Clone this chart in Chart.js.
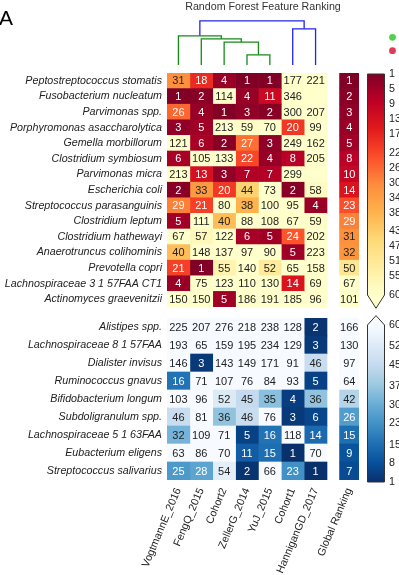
<!DOCTYPE html>
<html>
<head>
<meta charset="utf-8">
<title>Random Forest Feature Ranking</title>
<script src="https://cdn.jsdelivr.net/npm/chart.js@4.4.1/dist/chart.umd.min.js"></script>
<style>
  html, body { margin: 0; padding: 0; background: #fff; }
  #figure { position: relative; width: 399px; height: 575px; overflow: hidden; }
  #figure canvas { position: absolute; }
</style>
</head>
<body>
<div id="figure">
  <canvas id="dendro" width="399" height="70" style="left:0px;top:0px"></canvas>
  <canvas id="crcMap" width="399" height="234" style="left:0px;top:73px"></canvas>
  <canvas id="ctrlMap" width="399" height="257" style="left:0px;top:318px"></canvas>
  <canvas id="crcBar" width="40" height="260" style="left:359px;top:60px"></canvas>
  <canvas id="ctrlBar" width="40" height="200" style="left:359px;top:300px"></canvas>
</div>
<script>
const studies = ["VogtmannE_2016", "FengQ_2015", "Cohort2", "ZellerG_2014", "YuJ_2015", "Cohort1", "HanniganGD_2017"];
const rankingLabel = "Global Ranking";
const title = "Random Forest Feature Ranking";
const panelLetter = "A";

// species enriched in CRC (red block)
const crcSpecies = [
    "Peptostreptococcus stomatis", "Fusobacterium nucleatum", "Parvimonas spp.",
    "Porphyromonas asaccharolytica", "Gemella morbillorum", "Clostridium symbiosum",
    "Parvimonas micra", "Escherichia coli", "Streptococcus parasanguinis",
    "Clostridium leptum", "Clostridium hathewayi", "Anaerotruncus colihominis",
    "Prevotella copri", "Lachnospiraceae 3 1 57FAA CT1", "Actinomyces graevenitzii",
];
const crcRanks = [
    [31, 18, 4, 1, 1, 177, 221],
    [1, 2, 114, 4, 11, 346, null],
    [26, 4, 1, 3, 2, 300, 207],
    [3, 5, 213, 59, 70, 20, 99],
    [121, 6, 2, 27, 3, 249, 162],
    [6, 105, 133, 22, 4, 8, 205],
    [213, 13, 3, 7, 7, 299, null],
    [2, 33, 20, 44, 73, 2, 58],
    [29, 21, 80, 38, 100, 95, 4],
    [5, 111, 40, 88, 108, 67, 59],
    [67, 57, 122, 6, 5, 24, 202],
    [40, 148, 137, 97, 90, 5, 223],
    [21, 1, 55, 140, 52, 65, 158],
    [4, 75, 123, 110, 130, 14, 69],
    [150, 150, 5, 186, 191, 185, 96],
];
const crcGlobal = [1, 2, 3, 4, 5, 8, 10, 14, 23, 29, 31, 32, 50, 67, 101];

// species enriched in controls (blue block)
const ctrlSpecies = [
    "Alistipes spp.", "Lachnospiraceae 8 1 57FAA", "Dialister invisus",
    "Ruminococcus gnavus", "Bifidobacterium longum", "Subdoligranulum spp.",
    "Lachnospiraceae 5 1 63FAA", "Eubacterium eligens", "Streptococcus salivarius",
];
const ctrlRanks = [
    [225, 207, 276, 218, 238, 128, 2],
    [193, 65, 159, 195, 234, 129, 3],
    [146, 3, 143, 149, 171, 91, 46],
    [16, 71, 107, 76, 84, 93, 5],
    [103, 96, 52, 45, 35, 4, 36],
    [46, 81, 36, 46, 76, 3, 6],
    [32, 109, 71, 5, 16, 118, 14],
    [63, 86, 70, 11, 15, 1, 70],
    [25, 28, 54, 2, 66, 23, 1],
];
const ctrlGlobal = [166, 130, 97, 64, 42, 26, 15, 9, 7];

const crcTicks = [1, 5, 9, 13, 17, 22, 26, 30, 34, 38, 43, 47, 51, 55, 60];
const ctrlTicks = [1, 8, 15, 23, 30, 37, 45, 52, 60];
const rankMin = 1;
const rankMax = 60;

// hierarchical clustering of the studies: [childA, childB, height]
const dendroLinks = [[3, 4, 0.23], [2, 7, 0.52], [1, 8, 0.59], [0, 9, 0.66], [5, 6, 0.82], [10, 11, 1.0]];
const dendroGroups = ["a", "a", "a", "a", "b", "b"];

// ---- layout / style ----
const FONT = "'Liberation Sans', Arial, Helvetica, sans-serif";
const TEXT = "#222222";
const RANK_SPAN = [7.55, 8.4];
const X_MAX = 8.4;
const LABEL_W = 167;
const RIGHT_PAD = 40;

const redPalette = ["#800026", "#bd0026", "#e31a1c", "#fc4e2a", "#fd8d3c", "#feb24c", "#fed976", "#ffeda0", "#ffffcc"];
const bluePalette = ["#08306b", "#08519c", "#2171b5", "#4292c6", "#6baed6", "#9ecae1", "#c6dbef", "#deebf7", "#f7fbff"];
const linkColors = { a: "#178a17", b: "#2323f0" };

Chart.defaults.font.family = FONT;
Chart.defaults.color = TEXT;

function hexToRgb(hex) {
    const n = parseInt(hex.slice(1), 16);
    return [(n >> 16) & 255, (n >> 8) & 255, n & 255];
}

function rankColor(palette, v) {
    if (v == null) return palette[palette.length - 1];
    const t = Math.min(Math.max((v - rankMin) / (rankMax - rankMin), 0), 1);
    const pos = t * (palette.length - 1);
    const i = Math.min(Math.floor(pos), palette.length - 2);
    const f = pos - i;
    const a = hexToRgb(palette[i]);
    const b = hexToRgb(palette[i + 1]);
    const c = a.map((x, k) => Math.round(x + (b[k] - x) * f));
    return `rgb(${c[0]}, ${c[1]}, ${c[2]})`;
}

const cellLabels = {
    id: "cellLabels",
    afterDatasetsDraw(chart) {
        const ctx = chart.ctx;
        ctx.save();
        ctx.font = `11px ${FONT}`;
        ctx.textAlign = "center";
        ctx.textBaseline = "middle";
        chart.data.datasets.forEach((ds, i) => {
            chart.getDatasetMeta(i).data.forEach((bar, j) => {
                const v = ds.values[j];
                if (v == null) return;
                ctx.fillStyle = v < 30 ? "#ffffff" : TEXT;
                ctx.fillText(String(v), (bar.x + bar.base) / 2, bar.y + 0.5);
            });
        });
        ctx.restore();
    },
};

function makeHeatmap(canvasId, species, ranks, globals, palette, showColumns) {
    const columns = studies.map((name, c) => ({
        label: name,
        values: ranks.map((row) => row[c]),
        span: [c, c + 1],
    }));
    columns.push({ label: rankingLabel, values: globals, span: RANK_SPAN });
    const tickCenters = columns.map((col) => (col.span[0] + col.span[1]) / 2);

    new Chart(document.getElementById(canvasId), {
        type: "bar",
        data: {
            labels: species,
            datasets: columns.map((col) => ({
                label: col.label,
                data: col.values.map(() => col.span),
                values: col.values,
                backgroundColor: col.values.map((v) => rankColor(palette, v)),
                borderWidth: 0,
                barPercentage: 1,
                categoryPercentage: 1,
                grouped: false,
            })),
        },
        options: {
            indexAxis: "y",
            responsive: false,
            animation: false,
            layout: { padding: { left: 0, right: RIGHT_PAD, top: 0, bottom: 0 } },
            plugins: { legend: { display: false }, tooltip: { enabled: false } },
            scales: {
                x: {
                    type: "linear",
                    min: 0,
                    max: X_MAX,
                    display: showColumns,
                    grid: { display: false, drawTicks: false },
                    border: { display: false },
                    afterBuildTicks: (axis) => {
                        axis.ticks = tickCenters.map((v) => ({ value: v }));
                    },
                    afterFit: (axis) => {
                        if (showColumns) axis.height = 95;
                    },
                    ticks: {
                        autoSkip: false,
                        minRotation: 67,
                        maxRotation: 67,
                        padding: 6,
                        color: TEXT,
                        font: { size: 10.7 },
                        callback: (value, index) => columns[index].label,
                    },
                },
                y: {
                    type: "category",
                    grid: { display: false, drawTicks: false },
                    border: { display: false },
                    afterFit: (axis) => {
                        axis.width = LABEL_W;
                        axis.paddingTop = 0;
                        axis.paddingBottom = 0;
                    },
                    ticks: {
                        autoSkip: false,
                        padding: 5,
                        color: TEXT,
                        font: { size: 10.7, style: "italic" },
                    },
                },
            },
        },
        plugins: [cellLabels],
    });
}

const colorbarOutline = {
    id: "colorbarOutline",
    afterDatasetsDraw(chart, args, opts) {
        const ctx = chart.ctx;
        const area = chart.chartArea;
        const y = chart.scales.y;
        const yStart = y.getPixelForValue(rankMin);
        const yEnd = y.getPixelForValue(rankMax);
        const tip = yEnd + (yEnd - yStart) * 0.06;
        const mid = (area.left + area.right) / 2;
        ctx.save();
        ctx.beginPath();
        ctx.moveTo(area.left, yEnd);
        ctx.lineTo(mid, tip);
        ctx.lineTo(area.right, yEnd);
        ctx.closePath();
        ctx.fillStyle = opts.extendColor;
        ctx.fill();
        ctx.beginPath();
        ctx.moveTo(area.left + 0.5, yStart);
        ctx.lineTo(area.left + 0.5, yEnd);
        ctx.lineTo(mid, tip);
        ctx.lineTo(area.right - 0.5, yEnd);
        ctx.lineTo(area.right - 0.5, yStart);
        ctx.closePath();
        ctx.strokeStyle = "#333333";
        ctx.lineWidth = 1;
        ctx.stroke();
        ctx.restore();
    },
};

function makeColorbar(canvasId, palette, ticks, reverse, padding) {
    new Chart(document.getElementById(canvasId), {
        type: "bar",
        data: {
            labels: [""],
            datasets: [
                {
                    data: [[rankMin, rankMax]],
                    borderWidth: 0,
                    barPercentage: 1,
                    categoryPercentage: 1,
                    backgroundColor: (context) => {
                        const chart = context.chart;
                        const y = chart.scales.y;
                        if (!chart.chartArea || !y) return palette[0];
                        const g = chart.ctx.createLinearGradient(0, y.getPixelForValue(rankMin), 0, y.getPixelForValue(rankMax));
                        palette.forEach((col, i) => g.addColorStop(i / (palette.length - 1), col));
                        return g;
                    },
                },
            ],
        },
        options: {
            responsive: false,
            animation: false,
            layout: { padding },
            plugins: {
                legend: { display: false },
                tooltip: { enabled: false },
                colorbarOutline: { extendColor: palette[palette.length - 1] },
            },
            scales: {
                x: { display: false },
                y: {
                    type: "linear",
                    position: "right",
                    min: rankMin,
                    max: rankMax,
                    reverse,
                    grid: { display: false, drawTicks: false },
                    border: { display: false },
                    afterBuildTicks: (axis) => {
                        axis.ticks = ticks.map((v) => ({ value: v }));
                    },
                    afterFit: (axis) => {
                        axis.width = 14;
                        axis.paddingTop = 0;
                        axis.paddingBottom = 0;
                    },
                    ticks: {
                        autoSkip: false,
                        padding: 4,
                        color: TEXT,
                        font: { size: 10.7 },
                        callback: (v) => String(v),
                    },
                },
            },
        },
        plugins: [colorbarOutline],
    });
}

// dendrogram over the study columns
const nodes = studies.map((_, i) => ({ x: i + 0.5, h: 0 }));
const dendroSets = dendroLinks.map(([a, b, h], k) => {
    const A = nodes[a];
    const B = nodes[b];
    nodes.push({ x: (A.x + B.x) / 2, h });
    return {
        data: [{ x: A.x, y: A.h }, { x: A.x, y: h }, { x: B.x, y: h }, { x: B.x, y: B.h }],
        showLine: true,
        borderColor: linkColors[dendroGroups[k]],
        borderWidth: 1.3,
        pointRadius: 0,
        tension: 0,
        clip: false,
    };
});

const panelDecor = {
    id: "panelDecor",
    afterDraw(chart) {
        const ctx = chart.ctx;
        ctx.save();
        ctx.fillStyle = "#000000";
        ctx.font = `21px ${FONT}`;
        ctx.textBaseline = "alphabetic";
        ctx.fillText(panelLetter, -1, 25);
        [["#4fd24f", 37.3], ["#e23a5a", 50.7]].forEach(([color, cy]) => {
            ctx.beginPath();
            ctx.arc(392.5, cy, 3.4, 0, Math.PI * 2);
            ctx.fillStyle = color;
            ctx.fill();
        });
        ctx.restore();
    },
};

new Chart(document.getElementById("dendro"), {
    type: "scatter",
    data: { datasets: dendroSets },
    options: {
        responsive: false,
        animation: false,
        layout: { padding: { left: LABEL_W, right: RIGHT_PAD, top: 0, bottom: 5 } },
        plugins: {
            legend: { display: false },
            tooltip: { enabled: false },
            title: {
                display: true,
                text: title,
                color: "#333333",
                font: { size: 10.7, weight: "normal" },
                padding: { top: 1, bottom: 7 },
            },
        },
        scales: {
            x: { type: "linear", min: 0, max: X_MAX, display: false },
            y: { type: "linear", min: 0, max: 1, display: false },
        },
    },
    plugins: [panelDecor],
});

makeHeatmap("crcMap", crcSpecies, crcRanks, crcGlobal, redPalette, false);
makeHeatmap("ctrlMap", ctrlSpecies, ctrlRanks, ctrlGlobal, bluePalette, true);
makeColorbar("crcBar", redPalette, crcTicks, true, { left: 8, right: 0, top: 14, bottom: 25 });
makeColorbar("ctrlBar", bluePalette, ctrlTicks, false, { left: 8, right: 0, top: 25, bottom: 18 });
</script>
</body>
</html>
